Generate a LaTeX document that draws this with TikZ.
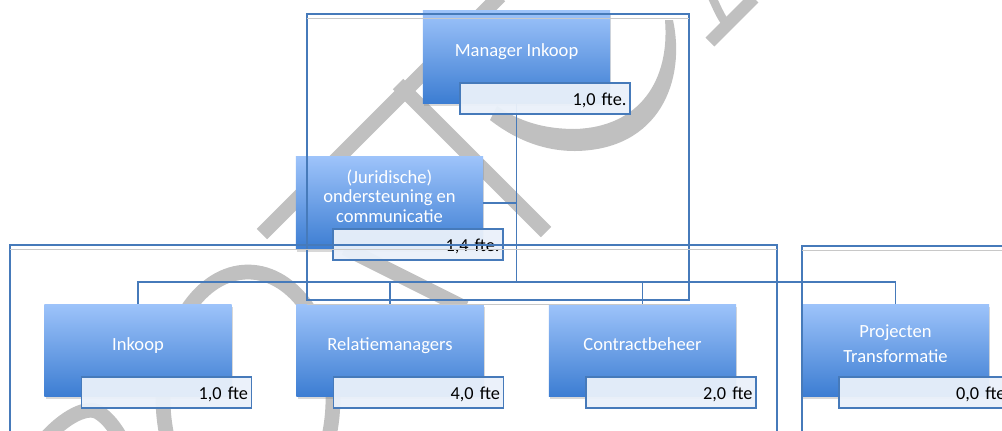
\documentclass[tikz,border=0pt]{standalone}
\usepackage{fontspec}
\setmainfont{Carlito}
\usetikzlibrary{calc,shadows}

\definecolor{unittop}{RGB}{157,195,250}
\definecolor{unitbot}{RGB}{60,125,210}
\definecolor{lijnblauw}{RGB}{70,122,186}
\definecolor{ftevul}{RGB}{234,241,250}
\definecolor{wmgrijs}{RGB}{192,192,192}
\definecolor{kadergrijs}{RGB}{200,200,200}

\newcommand{\boxlabel}[1]{\raisebox{2.8pt}[\height][\depth]{\begin{tabular}{@{}c@{}}#1\end{tabular}}}

\tikzset{
  afdeling/.style={rectangle, minimum width=4.675cm, minimum height=2.3cm, inner sep=0pt,
    top color=unittop, bottom color=unitbot, text=white,
    font=\fontsize{13.2pt}{13.8pt}\selectfont,
    drop shadow={opacity=0.3, shadow xshift=1pt, shadow yshift=-2pt}},
  ftevak/.style={rectangle, draw=lijnblauw, line width=1.3pt, fill=ftevul, fill opacity=0.95,
    text opacity=1, text=black, minimum height=0.775cm, text width=115.9pt, align=right,
    inner xsep=2.5pt, inner ysep=0pt, text height=9.6pt, text depth=0pt,
    font=\fontsize{13pt}{15pt}\selectfont},
  lijn/.style={draw=lijnblauw, line width=1.3pt},
  kader/.style={draw=lijnblauw, line width=1.3pt},
  kaderschaduw/.style={draw=kadergrijs, line width=1.3pt},
  watermerk/.style={draw=wmgrijs, line width=10.5pt}
}

\begin{document}
\begin{tikzpicture}[x=0.025cm, y=-0.025cm]
    \useasboundingbox (0,0) rectangle (1002,430);
    \fill[white] (0,0) rectangle (1002,430);

    % 水印
    \draw[watermerk] (248,398) ellipse [x radius=85, y radius=126];
    \draw[watermerk] (40,445) .. controls (60,420) and (85,405) .. (98,412) .. controls (108,418) and (115,428) .. (122,440);
    \draw[watermerk] (262,234) -- (500,-4);
    \draw[watermerk] (398,84) -- (546,232);
    \draw[watermerk] (345,248) -- (465,308);
    \fill[wmgrijs] (673,20) .. controls (686,80) and (660,150) .. (575,151) .. controls (540,151) and (512,137) .. (490,120)
        -- (497,106) .. controls (520,122) and (545,129) .. (575,129) .. controls (640,127) and (670,80) .. (665,20) -- cycle;
    \draw[watermerk, line width=9pt] (710,42) -- (754,-2);
    \draw[watermerk, line width=6pt] (712,-3) .. controls (718,10) and (722,20) .. (730,28);

    % 部门框
    \node[afdeling] (mgr) at (516.5,57) {\boxlabel{Manager Inkoop}};
    \node[afdeling] (jur) at (389.5,203) {\boxlabel{(Juridische)\\ondersteuning en\\communicatie}};
    \node[afdeling] (ink) at (138,350.5) {\boxlabel{Inkoop}};
    \node[afdeling] (rel) at (390,350.5) {\boxlabel{Relatiemanagers}};
    \node[afdeling] (con) at (642.5,350.5) {\boxlabel{Contractbeheer}};
    \node[afdeling] (pro) at (895.5,350.5) {\boxlabel{Projecten\\[4pt]Transformatie}};

    % 连线
    \coordinate (hub) at (516.5,282);
    \draw[lijn] (mgr.south) -- (hub);
    \draw[lijn] (jur.east) -- (jur.east -| hub);
    \draw[lijn] (hub) -| (ink.north);
    \draw[lijn] (hub) -| (rel.north);
    \draw[lijn] (hub) -| (con.north);
    \draw[lijn] (hub) -| (pro.north);

    % fte
    \node[ftevak] (mgrfte) at ($(mgr.south)+(28.5,-4.5)$) {1,0 fte.};
    \node[ftevak] (jurfte) at ($(jur.south)+(28.5,-4.5)$) {1,4 fte.};
    \node[ftevak] (inkfte) at ($(ink.south)+(28.5,-4.5)$) {1,0 fte};
    \node[ftevak] (relfte) at ($(rel.south)+(28.5,-4.5)$) {4,0 fte};
    \node[ftevak] (confte) at ($(con.south)+(28.5,-4.5)$) {2,0 fte};
    \node[ftevak] (profte) at ($(pro.south)+(28.5,-4.5)$) {0,0 fte};

    % 外框
    \draw[kader] (307,14) rectangle (689,300);
    \draw[kaderschaduw] (307,18.5) -- (689,18.5);
    \draw[kaderschaduw] (307,304.5) -- (690,304.5);
    \draw[kader] (10,245) rectangle (777,445);
    \draw[kaderschaduw] (10,249.5) -- (777,249.5);
    \draw[kader] (802,246) rectangle (1015,445);
    \draw[kaderschaduw] (802,250.5) -- (1002,250.5);
\end{tikzpicture}
\end{document}
